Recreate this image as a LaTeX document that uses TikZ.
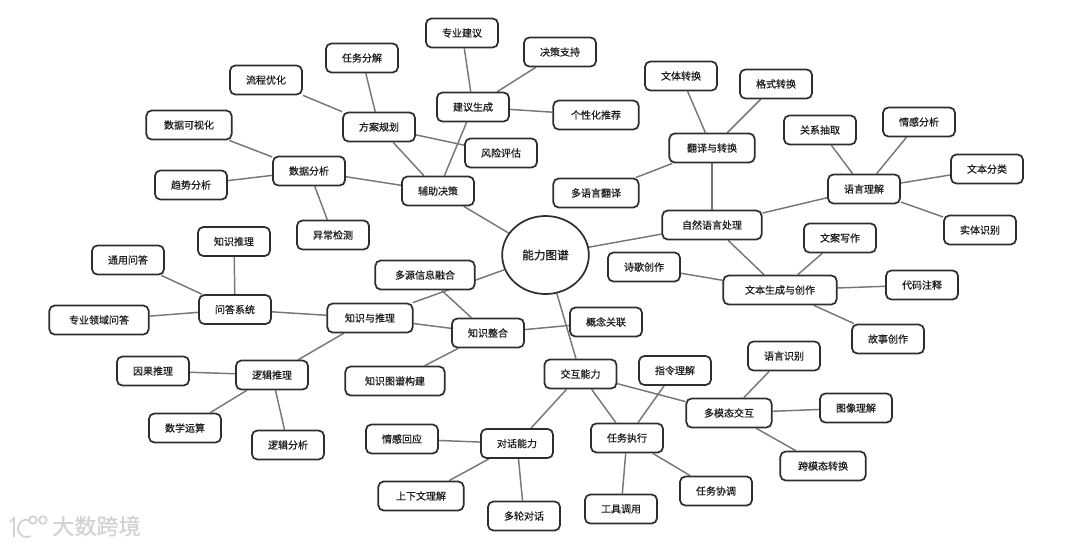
\documentclass[tikz,border=0pt]{standalone}
\usepackage{fontspec}
\setmainfont{Noto Sans CJK SC}[FakeBold=0.6]
\usetikzlibrary{backgrounds,shapes.geometric}
\definecolor{edgecol}{HTML}{777777}
\definecolor{boxcol}{HTML}{2E2E2E}
\definecolor{txtcol}{HTML}{1E1E1E}
\definecolor{markcol}{HTML}{D2D2D2}
\tikzset{
  x=0.75pt,y=-0.75pt,
  box/.style={draw=boxcol,line width=1.3pt,fill=white,rounded corners=4pt,minimum height=21.75pt,inner sep=0pt,text=txtcol,font=\fontsize{7.5pt}{9pt}\selectfont},
  wa/.style={box,minimum width=54pt},
  wb/.style={box,minimum width=64pt},
  wc/.style={box,minimum width=74.5pt},
  wd/.style={box,minimum width=85pt},
  hub/.style={draw=boxcol,line width=1.3pt,fill=white,ellipse,minimum width=65pt,minimum height=58.5pt,inner sep=0pt,text=txtcol,font=\fontsize{8.7pt}{10pt}\selectfont},
  link/.style={draw=edgecol,line width=1.1pt},
  markline/.style={draw=markcol,line width=1.3pt}
}
\begin{document}
\begin{tikzpicture}
\useasboundingbox (0,0) rectangle (1080,547);
\node[hub] (root) at (545.5,255) {能力图谱};
\node[wa] (fz) at (438,191) {辅助决策};
\node[wc] (zr) at (712,225) {自然语言处理};
\node[wb] (zt) at (370,318) {知识与推理};
\node[wa] (jh) at (580.5,374) {交互能力};
\node[wa] (sj) at (309,171) {数据分析};
\node[wa] (fa) at (379,127) {方案规划};
\node[wa] (jy) at (473,107) {建议生成};
\node[wa] (fx) at (501,153) {风险评估};
\node[wb] (ksh) at (189,125) {数据可视化};
\node[wa] (qs) at (191,185) {趋势分析};
\node[wa] (yc) at (333,235) {异常检测};
\node[wa] (rw) at (362,58) {任务分解};
\node[wa] (lc) at (266,80) {流程优化};
\node[wa] (zy) at (462,33) {专业建议};
\node[wa] (jc) at (560,52) {决策支持};
\node[wb] (gx) at (596,115) {个性化推荐};
\node[wb] (fy) at (712,148) {翻译与转换};
\node[wa] (yl) at (864,189) {语言理解};
\node[wd] (wb) at (780,290) {文本生成与创作};
\node[wa] (wt) at (681,76) {文体转换};
\node[wa] (gs) at (776,84) {格式转换};
\node[wb] (dy) at (596,193) {多语言翻译};
\node[wa] (gl) at (820,130) {关系抽取};
\node[wa] (qg) at (919,122) {情感分析};
\node[wa] (fl) at (987,169) {文本分类};
\node[wa] (st) at (980,230) {实体识别};
\node[wa] (sg) at (644,267) {诗歌创作};
\node[wa] (wa) at (840,238) {文案写作};
\node[wa] (dm) at (922,285) {代码注释};
\node[wa] (gu) at (888,339) {故事创作};
\node[wa] (wd) at (235,309.5) {问答系统};
\node[wa] (lj) at (272,375) {逻辑推理};
\node[wa] (zh) at (488,333) {知识整合};
\node[wa] (tl) at (234,241.5) {知识推理};
\node[wa] (ty) at (128,260) {通用问答};
\node[wc] (ly) at (99,320) {专业领域问答};
\node[wa] (yg) at (153,371) {因果推理};
\node[wa] (sx) at (185,428) {数学运算};
\node[wa] (lf) at (288,445) {逻辑分析};
\node[wc] (dyx) at (425,275) {多源信息融合};
\node[wa] (gn) at (606,322) {概念关联};
\node[wc] (gj) at (395,381) {知识图谱构建};
\node[wa] (dh) at (517,443.5) {对话能力};
\node[wa] (zx) at (627,438) {任务执行};
\node[wb] (dm2) at (729,413) {多模态交互};
\node[wa] (yy) at (784,356) {语言识别};
\node[wa] (tx) at (856,408) {图像理解};
\node[wb] (km) at (823,466) {跨模态转换};
\node[wa] (zl) at (675,370.5) {指令理解};
\node[wa] (gd) at (621,509) {工具调用};
\node[wa] (xt) at (716,491) {任务协调};
\node[wa] (hy) at (402,439) {情感回应};
\node[wb] (sw) at (421,496) {上下文理解};
\node[wa] (dl) at (524,516) {多轮对话};
\begin{pgfonlayer}{background}
\foreach \a/\b in {root/fz,root/zr,root/zt,root/jh,
  fz/sj,fz/fa,fz/jy,fa/fx,fa/rw,fa/lc,jy/zy,jy/jc,jy/gx,
  sj/ksh,sj/qs,sj/yc,
  zr/fy,zr/yl,zr/wb,fy/wt,fy/gs,fy/dy,
  yl/gl,yl/qg,yl/fl,yl/st,wb/sg,wb/wa,wb/dm,wb/gu,
  zt/wd,zt/lj,zt/zh,wd/tl,wd/ty,wd/ly,lj/yg,lj/sx,lj/lf,
  zh/dyx,zh/gn,zh/gj,
  jh/dh,jh/zx,jh/dm2,dm2/yy,dm2/tx,dm2/km,zx/zl,zx/gd,zx/xt,
  dh/hy,dh/sw,dh/dl}
  {\draw[link] (\a) -- (\b);}
\end{pgfonlayer}
% watermark
\node[text=markcol,anchor=west,inner sep=0pt,font=\fontsize{16.6pt}{18pt}\selectfont] (mark) at (52,526) {大数跨境};
\draw[markline] (10,522) -- (14,518) -- (14,537);
\draw[markline] (30,521) .. controls (23,517) and (18,523) .. (18,529) .. controls (19,536) and (26,539) .. (31,536);
\draw[markline] (33,520) circle[radius=3.8];
\draw[markline] (43,520) circle[radius=3.8];
\end{tikzpicture}
\end{document}
